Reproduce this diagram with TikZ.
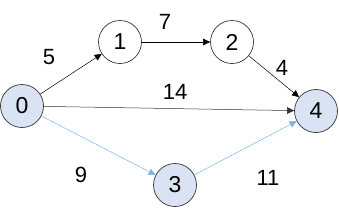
\documentclass[tikz,border=0pt]{standalone}
\usepackage{fontspec}
\setmainfont{Liberation Sans}
\usetikzlibrary{arrows.meta}
\definecolor{nodefill}{HTML}{DAE3F3}
\definecolor{blueedge}{HTML}{7FB2E5}
\begin{document}
\begin{tikzpicture}[x=1pt,y=-1pt,
  vtx/.style={circle,draw=black!80,line width=0.7pt,minimum size=43pt,inner sep=0pt,font=\fontsize{23}{23}\selectfont},
  hl/.style={vtx,fill=nodefill},
  arr/.style={-{Triangle[length=7pt,width=6.5pt]},line width=0.5pt},
  lbl/.style={font=\fontsize{22}{22}\selectfont}]
\useasboundingbox (0,0) rectangle (339,215);
\node[hl]  (n0) at (22,106) {0};
\node[vtx] (n1) at (120,42) {1};
\node[vtx] (n2) at (232,42) {2};
\node[hl]  (n3) at (175,185) {3};
\node[hl]  (n4) at (316,111) {4};
\draw[arr,black] (n0) -- (n1);
\draw[arr,black] (n1) -- (n2);
\draw[arr,black] (n2) -- (n4);
\draw[arr,black!80] (n0) -- (n4);
\draw[arr,blueedge] (n0) -- (n3);
\draw[arr,blueedge] (n3) -- (n4);
\node[lbl] (l5) at (49,57) {5};
\node[lbl] (l7) at (165,22) {7};
\node[lbl] (l4) at (282,68) {4};
\node[lbl] (l14) at (175,92) {14};
\node[lbl] (l9) at (81,175) {9};
\node[lbl] (l11) at (268,178) {11};
\end{tikzpicture}
\end{document}
